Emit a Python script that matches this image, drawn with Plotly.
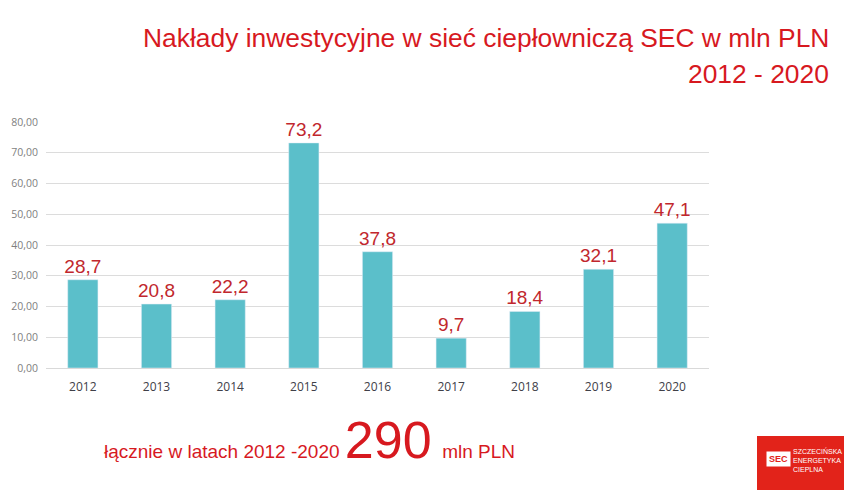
import plotly.graph_objects as go

years = ["2012", "2013", "2014", "2015", "2016", "2017", "2018", "2019", "2020"]
values = [28.7, 20.8, 22.2, 73.2, 37.8, 9.7, 18.4, 32.1, 47.1]
y_ticks = [0, 10, 20, 30, 40, 50, 60, 70, 80]
y_tick_labels = ["0,00", "10,00", "20,00", "30,00", "40,00", "50,00", "60,00", "70,00", "80,00"]

RED = "#d7191f"
LABEL_RED = "#c1272d"
FONT = "Liberation Sans, Arial, sans-serif"

# page body has an 8px margin, so the figure is drawn 8px smaller and shifted
OFF = 8
W, H = 852 - OFF, 490 - OFF
# plot area in page pixels
L, R, T, B = 46, 709, 122, 368


def px(x):
    return (x - L) / (R - L)


def py(y):
    return (B - y) / (B - T)


fig = go.Figure()
fig.add_trace(go.Bar(
    x=years, y=values,
    marker_color="#5bbfca",
    width=0.41,
    text=[f"{v:.1f}".replace(".", ",") for v in values],
    textposition="outside",
    constraintext="none",
    textfont=dict(color=LABEL_RED, size=19, family=FONT),
    cliponaxis=False,
))

annotations = [
    dict(x=px(831), y=py(38), text="Nakłady inwestycyjne w sieć ciepłowniczą SEC w mln PLN",
         xanchor="right", yanchor="middle", font=dict(size=26.4, color=RED, family=FONT)),
    dict(x=px(831), y=py(74), text="2012 - 2020",
         xanchor="right", yanchor="middle", font=dict(size=26.4, color=RED, family=FONT)),
    dict(x=px(102), y=py(440),
         text="łącznie w latach 2012 -2020 <span style='font-size:52px'>290</span>  mln PLN",
         xanchor="left", yanchor="middle", font=dict(size=19, color=RED, family=FONT)),
    dict(x=px(766), y=py(459), text="<b>SEC</b>", xanchor="left", yanchor="middle",
         font=dict(size=9, color="#e2231a", family=FONT), bgcolor="white", borderpad=2),
    dict(x=px(791), y=py(460), text="SZCZECIŃSKA<br>ENERGETYKA<br>CIEPLNA", xanchor="left",
         yanchor="middle", align="left", font=dict(size=7, color="white", family=FONT)),
]
for a in annotations:
    a.update(xref="paper", yref="paper", showarrow=False)

fig.add_shape(type="rect", xref="paper", yref="paper",
              x0=px(757), x1=px(860), y0=py(436), y1=py(495),
              fillcolor="#e2231a", line_width=0, layer="above")

fig.update_layout(
    width=W, height=H,
    margin=dict(l=L - OFF, r=852 - R, t=T - OFF, b=490 - B, pad=0),
    paper_bgcolor="white", plot_bgcolor="white",
    showlegend=False,
    annotations=annotations,
    font=dict(family=FONT),
    xaxis=dict(tickfont=dict(size=12, color="#404048", family="Open Sans, sans-serif"),
               showline=True, linecolor="#d9d9d9", ticks="", showgrid=False,
               ticklabelstandoff=8, automargin=False),
    yaxis=dict(range=[0, 80], tickvals=y_ticks, ticktext=y_tick_labels,
               tickfont=dict(size=10.5, color="#7f7f7f", family="Open Sans, sans-serif"),
               gridcolor="#dcdcdc", zeroline=False, ticks="", ticklabelstandoff=7,
               automargin=False),
)

fig.write_html("out.html")
